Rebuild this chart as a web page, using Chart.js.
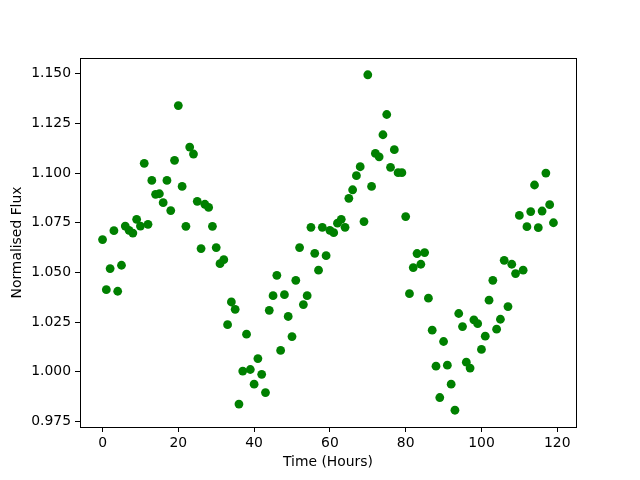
<!DOCTYPE html>
<html>
<head>
<meta charset="utf-8">
<script src="https://cdn.jsdelivr.net/npm/chart.js@4/dist/chart.umd.min.js"></script>
<style>
  html, body { margin: 0; padding: 0; background: #fff; }
  canvas { display: block; }
</style>
</head>
<body>
<canvas id="chart" width="640" height="480"></canvas>
<script>
const hours = [
  0, 1, 2, 3, 4, 5, 6, 7, 8, 9, 10, 11, 12, 13, 14, 15, 16, 17, 18, 19,
  20, 21, 22, 23, 24, 25, 26, 27, 28, 29, 30, 31, 32, 33, 34, 35, 36, 37, 38, 39,
  40, 41, 42, 43, 44, 45, 46, 47, 48, 49, 50, 51, 52, 53, 54, 55, 56, 57, 58, 59,
  60, 61, 62, 63, 64, 65, 66, 67, 68, 69, 70, 71, 72, 73, 74, 75, 76, 77, 78, 79,
  80, 81, 82, 83, 84, 85, 86, 87, 88, 89, 90, 91, 92, 93, 94, 95, 96, 97, 98, 99,
  100, 101, 102, 103, 104, 105, 106, 107, 108, 109, 110, 111, 112, 113, 114, 115, 116, 117, 118, 119
];
const flux = [
  1.0665, 1.0413, 1.0519, 1.0710, 1.0405, 1.0536, 1.0733, 1.0712, 1.0698, 1.0767,
  1.0733, 1.1049, 1.0742, 1.0963, 1.0893, 1.0896, 1.0851, 1.0963, 1.0811, 1.1064,
  1.1340, 1.0933, 1.0732, 1.1131, 1.1096, 1.0858, 1.0620, 1.0843, 1.0827, 1.0732,
  1.0625, 1.0544, 1.0564, 1.0237, 1.0351, 1.0314, 0.9837, 1.0003, 1.0189, 1.0011,
  0.9937, 1.0066, 0.9987, 0.9895, 1.0309, 1.0383, 1.0485, 1.0107, 1.0388, 1.0278,
  1.0177, 1.0460, 1.0625, 1.0338, 1.0383, 1.0727, 1.0596, 1.0511, 1.0727, 1.0584,
  1.0712, 1.0700, 1.0748, 1.0767, 1.0727, 1.0873, 1.0916, 1.0987, 1.1032, 1.0756,
  1.1495, 1.0933, 1.1099, 1.1082, 1.1193, 1.1295, 1.1029, 1.1118, 1.1002, 1.1002,
  1.0781, 1.0393, 1.0524, 1.0595, 1.0541, 1.0600, 1.0370, 1.0209, 1.0028, 0.9870,
  1.0152, 1.0033, 0.9937, 0.9806, 1.0293, 1.0227, 1.0048, 1.0018, 1.0261, 1.0242,
  1.0112, 1.0179, 1.0360, 1.0460, 1.0214, 1.0264, 1.0561, 1.0328, 1.0541, 1.0494,
  1.0787, 1.0511, 1.0730, 1.0806, 1.0940, 1.0725, 1.0809, 1.1000, 1.0841, 1.0750
];

// Tick labels
const xTicks = [0, 20, 40, 60, 80, 100, 120];
const yTicks = [0.975, 1.000, 1.025, 1.050, 1.075, 1.100, 1.125, 1.150];

const points = hours.map((h, i) => ({ x: h, y: flux[i] }));

// matplotlib style 5% margins around the data
function padded(values) {
  const lo = Math.min(...values);
  const hi = Math.max(...values);
  const m = (hi - lo) * 0.05;
  return [lo - m, hi + m];
}
const [xMin, xMax] = padded(hours);
const [yMin, yMax] = padded(flux);

const FONT = "'DejaVu Sans', sans-serif";

// Draw the full box around the plot area (matplotlib spines)
const frame = {
  id: 'frame',
  afterDraw(chart) {
    const a = chart.chartArea;
    const ctx = chart.ctx;
    ctx.save();
    ctx.strokeStyle = '#000';
    ctx.lineWidth = 1;
    ctx.strokeRect(Math.round(a.left) + 0.5, Math.round(a.top) + 0.5,
      Math.round(a.right - a.left), Math.round(a.bottom - a.top));
    ctx.restore();
  }
};

new Chart(document.getElementById('chart'), {
  type: 'scatter',
  data: {
    datasets: [{
      data: points,
      backgroundColor: '#008000',
      borderWidth: 0,
      pointRadius: 4.4,
      pointHoverRadius: 4.4
    }]
  },
  options: {
    responsive: false,
    animation: false,
    layout: { padding: { top: 58, right: 64, left: 0, bottom: 0 } },
    plugins: {
      legend: { display: false },
      tooltip: { enabled: false }
    },
    scales: {
      x: {
        type: 'linear',
        min: xMin,
        max: xMax,
        afterBuildTicks: s => { s.ticks = xTicks.map(v => ({ value: v })); },
        afterFit: s => { s.height = 53; },
        grid: { display: true, drawOnChartArea: false, drawTicks: true, tickLength: 5, color: '#000' },
        border: { display: true, color: '#000' },
        ticks: {
          color: '#000',
          padding: 3,
          maxRotation: 0,
          font: { family: FONT, size: 13.9 },
          callback: v => String(v)
        },
        title: {
          display: true,
          text: 'Time (Hours)',
          color: '#000',
          font: { family: FONT, size: 13.9 },
          padding: { top: 0, bottom: 9 }
        }
      },
      y: {
        type: 'linear',
        min: yMin,
        max: yMax,
        afterBuildTicks: s => { s.ticks = yTicks.map(v => ({ value: v })); },
        afterFit: s => { s.width = 80; },
        grid: { display: true, drawOnChartArea: false, drawTicks: true, tickLength: 5, color: '#000' },
        border: { display: true, color: '#000' },
        ticks: {
          color: '#000',
          padding: 4,
          font: { family: FONT, size: 13.9 },
          callback: v => v.toFixed(3)
        },
        title: {
          display: true,
          text: 'Normalised Flux',
          color: '#000',
          font: { family: FONT, size: 13.9 },
          padding: { top: 9, bottom: 0 }
        }
      }
    }
  },
  plugins: [frame]
});
</script>
</body>
</html>
